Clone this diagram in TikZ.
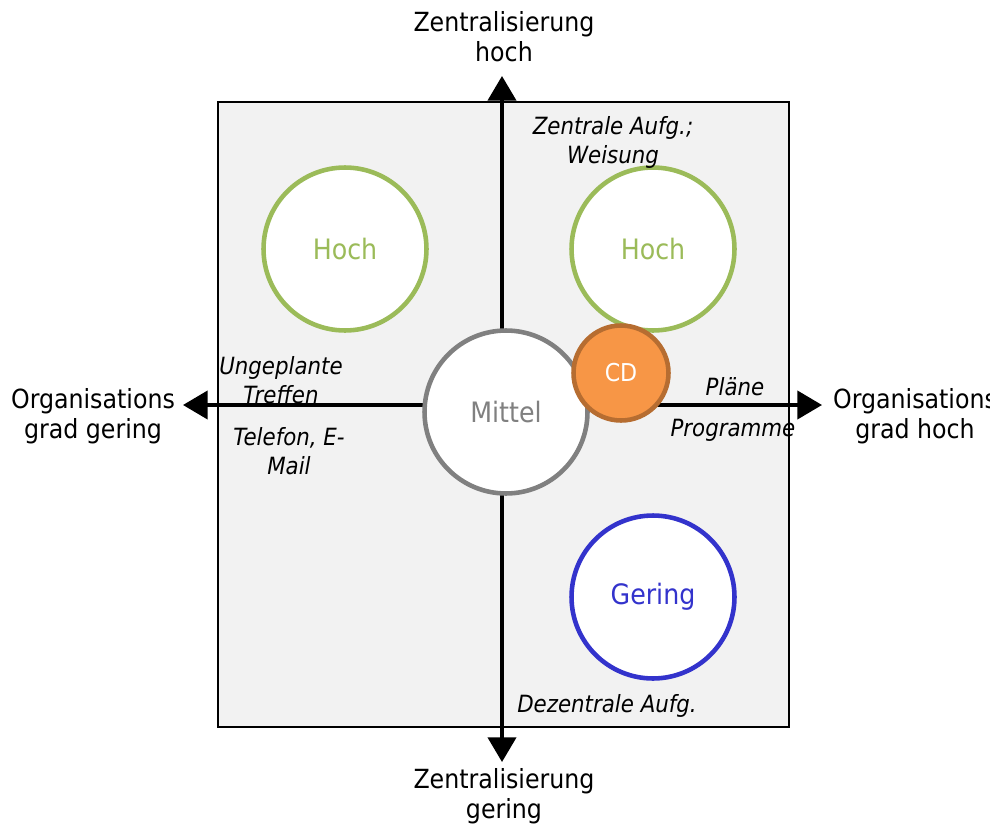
\documentclass[tikz,border=0pt]{standalone}
\usepackage{fontspec}
\setmainfont{DejaVu Sans Condensed}
\usetikzlibrary{arrows.meta}
\definecolor{hochgreen}{HTML}{9BBB59}
\definecolor{mittelgray}{HTML}{808080}
\definecolor{geringblue}{HTML}{3333CC}
\definecolor{cdorange}{HTML}{F79646}
\definecolor{cdborder}{HTML}{B66D31}
\definecolor{fieldgray}{HTML}{F2F2F2}

\begin{document}
\begin{tikzpicture}[x=0.02cm, y=-0.02cm]
    % Styles
    \tikzstyle{axis} = [line width=2pt, {Triangle[length=14pt, width=16pt]}-{Triangle[length=14pt, width=16pt]}]
    \tikzstyle{level} = [circle, draw, fill=white, line width=2.6pt, minimum size=3.26cm, inner sep=0pt, font=\fontsize{16}{19}\selectfont]
    \tikzstyle{axislabel} = [align=center, font=\fontsize{15}{17}\selectfont]
    \tikzstyle{note} = [align=center, font=\fontsize{13.5}{16.5}\selectfont\itshape]

    \useasboundingbox (0,0) rectangle (990,828);

    % Field
    \draw [fill=fieldgray, line width=1.4pt] (218,102) rectangle (789,727);

    % Arrows
    \coordinate (toptip) at (502,76);
    \coordinate (bottomtip) at (502,762);
    \coordinate (lefttip) at (183,405);
    \coordinate (righttip) at (822,405);
    \draw [axis] (bottomtip) -- (toptip);
    \draw [axis] (lefttip) -- (righttip);

    % Nodes
    \node [level, draw=hochgreen, text=hochgreen] (hochleft) at (345,249) {Hoch};
    \node [level, draw=hochgreen, text=hochgreen] (hochright) at (653,249) {Hoch};
    \node [level, draw=geringblue, text=geringblue] (gering) at (653,597) {Gering};
    \node [level, draw=mittelgray, text=mittelgray] (mittel) at (506,412) {Mittel};
    \node [circle, draw=cdborder, fill=cdorange, text=white, line width=2.6pt, minimum size=1.9cm, inner sep=0pt, font=\fontsize{14}{16}\selectfont] (cd) at (621,373) {CD};

    % Axis labels
    \node [axislabel] (zentralhoch) at (504,37) {Zentralisierung\\hoch};
    \node [axislabel] (zentralgering) at (504,796) {Zentralisierung\\gering};
    \node [axislabel] (orggering) at (93,416) {Organisations\\grad gering};
    \node [axislabel] (orghoch) at (915,416) {Organisations\\grad hoch};

    % Notes
    \node [note] (weisung) at (613,142) {Zentrale Aufg.;\\Weisung};
    \node [note] (treffen) at (281,380) {Ungeplante\\Treffen};
    \node [note] (telefon) at (289,451) {Telefon, E-\\Mail};
    \node [note] (plaene) at (735,387) {Pläne};
    \node [note] (programme) at (733,430) {Programme};
    \node [note] (dezentral) at (607,706) {Dezentrale Aufg.};
\end{tikzpicture}
\end{document}
